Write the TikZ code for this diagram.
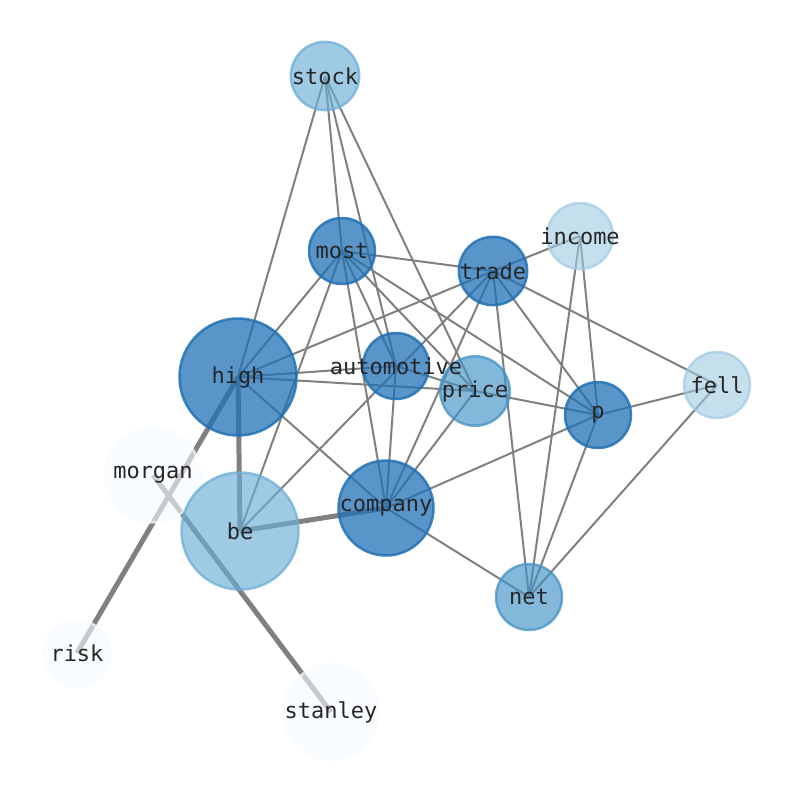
\documentclass[tikz,border=0pt]{standalone}
\usepackage{fontspec}
\newfontfamily\wordfont{DejaVu Sans Mono}
\usepackage{tikz}
\usetikzlibrary{backgrounds}
\definecolor{blues7}{RGB}{33,113,181}
\definecolor{blues6}{RGB}{66,146,198}
\definecolor{blues5}{RGB}{107,174,214}
\definecolor{blues4}{RGB}{158,202,225}
\definecolor{blues1}{RGB}{247,251,255}
\tikzset{
  word/.style={circle, inner sep=0pt, minimum size=66pt, line width=2.5pt,
    text opacity=1, text=black!85, font=\fontsize{22}{26}\selectfont\wordfont},
  deep/.style={word, fill=blues7, draw=blues7, fill opacity=0.75, draw opacity=0.85},
  mid/.style={word, fill=blues6, draw=blues6, fill opacity=0.65, draw opacity=0.75},
  soft/.style={word, fill=blues5, draw=blues5, fill opacity=0.65, draw opacity=0.75},
  pale/.style={word, fill=blues4, draw=blues4, fill opacity=0.6, draw opacity=0.7},
  faint/.style={word, fill=blues1, draw=blues1, fill opacity=0.6, draw opacity=0.7},
  big/.style={minimum size=117pt},
  large/.style={minimum size=95pt}
}

\begin{document}
\begin{tikzpicture}[x=1pt,y=-1pt,
    link/.style={gray, line width=2pt},
    heavy/.style={gray, line width=5pt}]
  \useasboundingbox (0,0) rectangle (794,790);

   \node[faint,large] (morgan)  at (153,475) {morgan};
   \node[faint] (risk)          at (77,653)  {risk};
   \node[faint,large] (stanley) at (331,712) {stanley};
   \node[soft] (stock)          at (325,76)  {stock};
   \node[deep] (most)           at (342,251) {most};
   \node[deep] (trade)          at (493,271) {trade};
   \node[pale] (income)         at (580,236) {\makebox[0pt]{income}};
   \node[deep,big] (high)       at (238,377) {high};
   \node[mid] (price)           at (475,391) {price};
   \node[deep] (automotive)     at (396,366) {\makebox[0pt]{automotive}};
   \node[deep] (p)              at (598,415) {p};
   \node[pale] (fell)           at (717,385) {fell};
   \node[soft,big] (be)         at (240,531) {be};
   \node[deep,large] (company)  at (386,508) {company};
   \node[mid] (net)             at (529,597) {net};

  \begin{scope}[on background layer]
    \path[link]
    (stock.center) edge (high.center)
          edge (most.center)
          edge (automotive.center)
          edge (price.center)
    (most.center) edge (high.center)
          edge (be.center)
          edge (automotive.center)
          edge (company.center)
          edge (price.center)
          edge (p.center)
          edge (trade.center)
    (trade.center) edge (income.center)
          edge (high.center)
          edge (be.center)
          edge (company.center)
          edge (net.center)
          edge (p.center)
          edge (fell.center)
    (income.center) edge (p.center)
          edge (net.center)
    (high.center) edge (automotive.center)
          edge (price.center)
          edge (company.center)
    (automotive.center) edge (price.center)
          edge (company.center)
    (price.center) edge (company.center)
          edge (p.center)
    (p.center) edge (fell.center)
          edge (company.center)
          edge (net.center)
    (fell.center) edge (net.center)
    (company.center) edge (net.center);
    \path[heavy]
    (high.center) edge (be.center)
          edge (risk.center)
    (be.center) edge (company.center)
    (morgan.center) edge (stanley.center);
  \end{scope}
\end{tikzpicture}
\end{document}
